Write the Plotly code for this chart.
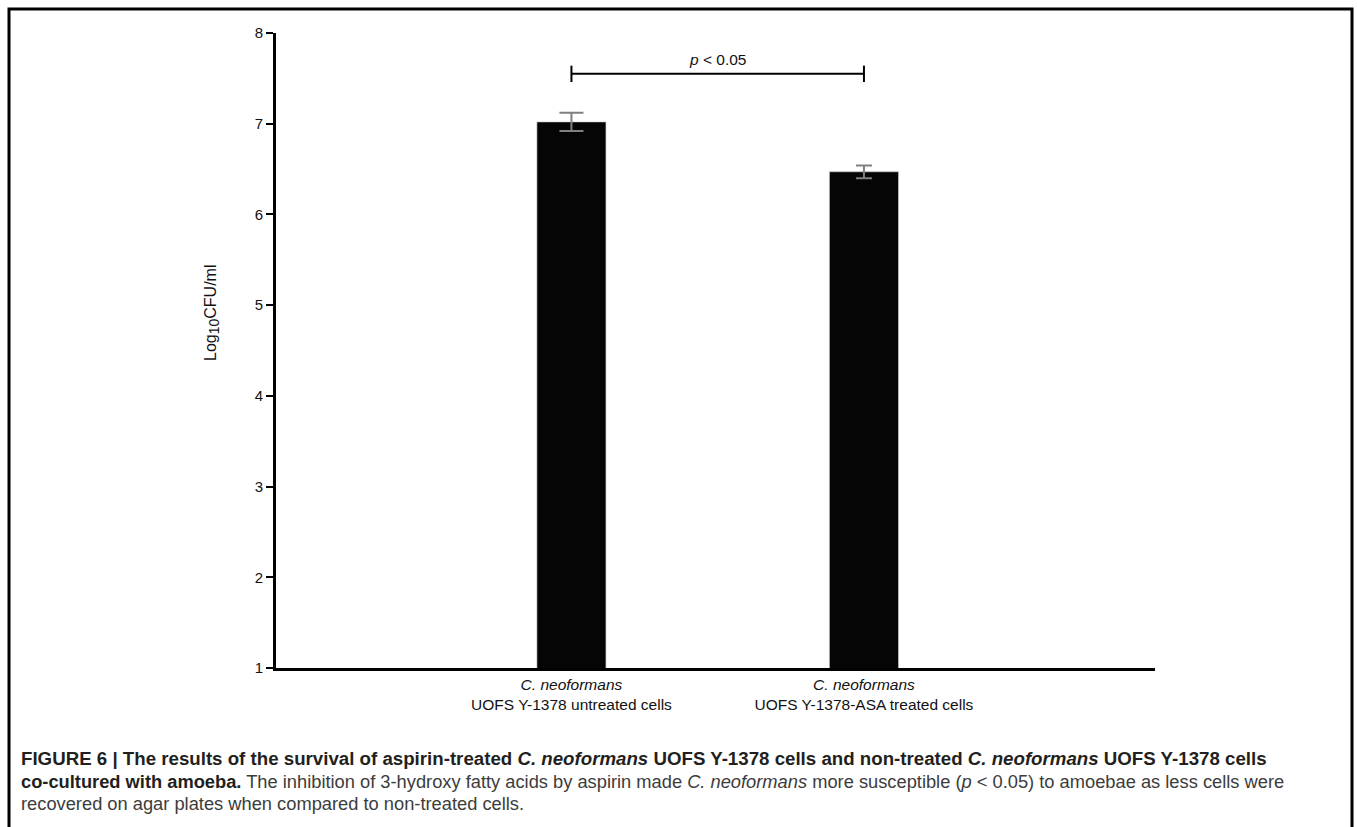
import plotly.graph_objects as go

# ---- data ----
categories = ["<i>C. neoformans</i><br>UOFS Y-1378 untreated cells",
              "<i>C. neoformans</i><br>UOFS Y-1378-ASA treated cells"]
positions = [0, 1]
log_cfu = [7.02, 6.47]
errors = [0.10, 0.07]
y_ticks = [1, 2, 3, 4, 5, 6, 7, 8]
sig_label = "<i>p</i> &lt; 0.05"
sig_y = 7.55
sig_tick = 0.09
cap_widths = [12, 8]

W, H = 1357, 827
L, R, T, B = 276, 1155, 33, 668  # plot area in px


def px(x):
    return (x - L) / (R - L)


def py(y):
    return (B - y) / (B - T)


fig = go.Figure()
for xpos, val, err, cw in zip(positions, log_cfu, errors, cap_widths):
    fig.add_trace(go.Bar(
        x=[xpos], y=[val], width=0.236,
        marker=dict(color="#050505", line=dict(color="#cccccc", width=0.6)),
        error_y=dict(type="data", array=[err], visible=True,
                     color="#808080", thickness=2, width=cw),
    ))

FONT = "Liberation Sans, Arial, Helvetica, sans-serif"

fig.update_layout(
    width=W, height=H,
    margin=dict(l=L, r=W - R, t=T, b=H - B, pad=0),
    paper_bgcolor="white", plot_bgcolor="white",
    showlegend=False, barmode="overlay",
    font=dict(family=FONT, size=15, color="#111111"),
    xaxis=dict(range=[-1.01, 1.995], tickvals=positions, ticktext=categories,
               showline=True, linecolor="black", linewidth=3,
               ticks="", showgrid=False, zeroline=False,
               tickfont=dict(size=15.5, color="#111111")),
    yaxis=dict(range=[1, 8], tickvals=y_ticks,
               showline=True, linecolor="black", linewidth=3,
               ticks="outside", ticklen=7, tickwidth=1.5, tickcolor="black",
               showgrid=False, zeroline=False,
               tickfont=dict(size=15, color="#111111")),
)

# y axis title
fig.add_annotation(xref="paper", yref="paper", x=px(212), y=py(313),
                   text="Log<sub><span style='font-size:14px'>10</span></sub>CFU/ml",
                   textangle=-90, showarrow=False,
                   font=dict(size=16, color="#111111"),
                   xanchor="center", yanchor="middle")

# significance bracket
fig.add_shape(type="line", xref="x", yref="y", x0=positions[0], x1=positions[1],
              y0=sig_y, y1=sig_y, line=dict(color="black", width=2))
for p in positions:
    fig.add_shape(type="line", xref="x", yref="y", x0=p, x1=p,
                  y0=sig_y - sig_tick, y1=sig_y + sig_tick,
                  line=dict(color="black", width=2))
fig.add_annotation(xref="x", yref="y", x=sum(positions) / 2, y=sig_y,
                   text=sig_label, showarrow=False, yanchor="bottom", yshift=4,
                   font=dict(size=15.5, color="#111111"))

# outer frame
fig.add_shape(type="rect", xref="paper", yref="paper",
              x0=px(9), x1=px(1352), y0=py(840), y1=py(9),
              line=dict(color="black", width=3), layer="above")

# caption
cap_dark = "#231f20"
cap_body = "#3c3c3c"
lines = [
    "<b>FIGURE 6 | The results of the survival of aspirin-treated <i>C. neoformans</i> "
    "UOFS Y-1378 cells and non-treated <i>C. neoformans</i> UOFS Y-1378 cells</b>",
    f"<span style='color:{cap_dark}'><b>co-cultured with amoeba.</b></span> The inhibition of 3-hydroxy fatty acids by aspirin made "
    "<i>C. neoformans</i> more susceptible (<i>p</i> &lt; 0.05) to amoebae as less cells were",
    "recovered on agar plates when compared to non-treated cells.",
]
ys = [758, 781, 804]
colors = [cap_dark, cap_body, cap_body]
sizes = [18.7, 18.3, 18.3]
for t, yy, c, s in zip(lines, ys, colors, sizes):
    fig.add_annotation(xref="paper", yref="paper", x=px(19), y=py(yy), text=t,
                       showarrow=False, xanchor="left", yanchor="middle",
                       font=dict(size=s, color=c, family=FONT))

fig.write_html("out.html")
